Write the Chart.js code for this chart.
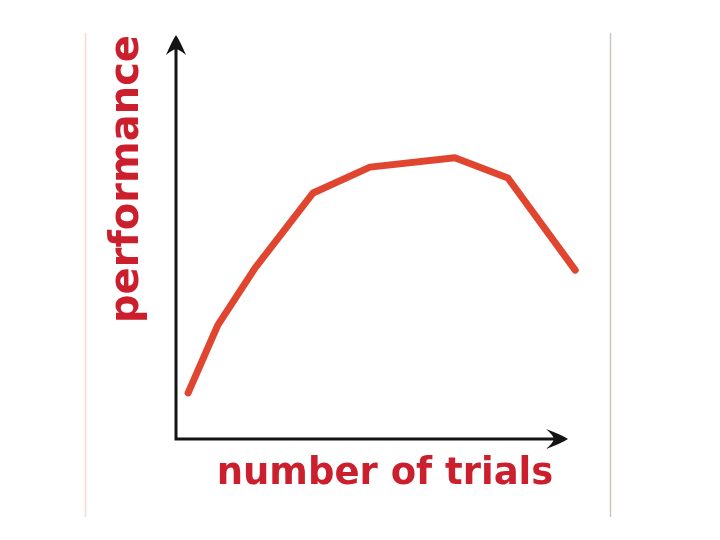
<!DOCTYPE html>
<html>
<head>
<meta charset="utf-8">
<script src="https://cdn.jsdelivr.net/npm/chart.js@4"></script>
<style>
html,body{margin:0;padding:0;background:#fff;}
#wrap{width:720px;height:540px;}
</style>
</head>
<body>
<div id="wrap"><canvas id="c" width="720" height="540"></canvas></div>
<script>
const trials = [0.29, 1.0, 1.89, 3.28, 4.64, 6.67, 7.94, 9.55];
const performance = [1.14, 2.82, 4.23, 6.09, 6.73, 6.96, 6.46, 4.18];
const xLabel = 'number of trials';
const yLabel = 'performance';

const points = trials.map((x, i) => ({x: x, y: performance[i]}));

const axesPlugin = {
  id: 'axesArrows',
  beforeDraw(chart) {
    const ctx = chart.ctx;
    ctx.save();
    // faint picture frame lines
    ctx.lineWidth = 1.5;
    ctx.strokeStyle = '#f0dcd4';
    ctx.beginPath(); ctx.moveTo(85.5, 33); ctx.lineTo(85.5, 517); ctx.stroke();
    ctx.strokeStyle = '#cdc5c1';
    ctx.beginPath(); ctx.moveTo(610.5, 33); ctx.lineTo(610.5, 517); ctx.stroke();
    ctx.restore();
  },
  afterDatasetsDraw(chart) {
    const ctx = chart.ctx;
    const a = chart.chartArea;
    const x0 = a.left, y0 = a.bottom;
    const yTip = a.top, xTip = a.right - 26;
    ctx.save();
    ctx.strokeStyle = '#141414';
    ctx.fillStyle = '#141414';
    ctx.lineWidth = 3;
    ctx.lineCap = 'square';
    ctx.beginPath();
    ctx.moveTo(x0, yTip + 10);
    ctx.lineTo(x0, y0);
    ctx.lineTo(xTip - 10, y0);
    ctx.stroke();
    // y arrowhead
    ctx.beginPath();
    ctx.moveTo(x0, yTip);
    ctx.quadraticCurveTo(x0 + 4, yTip + 6, x0 + 10, yTip + 20);
    ctx.quadraticCurveTo(x0 + 4, yTip + 15, x0, yTip + 14);
    ctx.quadraticCurveTo(x0 - 4, yTip + 15, x0 - 10, yTip + 20);
    ctx.quadraticCurveTo(x0 - 4, yTip + 6, x0, yTip);
    ctx.closePath();
    ctx.fill();
    // x arrowhead
    ctx.beginPath();
    ctx.moveTo(xTip, y0);
    ctx.quadraticCurveTo(xTip - 6, y0 - 4, xTip - 22, y0 - 10);
    ctx.quadraticCurveTo(xTip - 15, y0 - 4, xTip - 14, y0);
    ctx.quadraticCurveTo(xTip - 15, y0 + 4, xTip - 22, y0 + 10);
    ctx.quadraticCurveTo(xTip - 6, y0 + 4, xTip, y0);
    ctx.closePath();
    ctx.fill();
    ctx.restore();
  }
};

new Chart(document.getElementById('c'), {
  type: 'line',
  data: {
    datasets: [{
      data: points,
      borderColor: '#e0452f',
      borderWidth: 7,
      pointRadius: 0,
      tension: 0,
      borderJoinStyle: 'round',
      borderCapStyle: 'round',
      clip: false,
      fill: false
    }]
  },
  options: {
    responsive: false,
    animation: false,
    devicePixelRatio: 1,
    layout: {padding: {left: 100, right: 126, top: 35, bottom: 43.8}},
    plugins: {legend: {display: false}, tooltip: {enabled: false}},
    scales: {
      x: {
        type: 'linear', min: 0, max: 10,
        grid: {display: false, drawTicks: false},
        border: {display: false},
        ticks: {display: false},
        title: {
          display: true, text: xLabel, color: '#cc1f2e',
          font: {family: 'DejaVu Sans', weight: 'bold', size: 37, lineHeight: 1.2},
          padding: {top: 12.8, bottom: 0}
        }
      },
      y: {
        type: 'linear', min: 0, max: 10,
        grid: {display: false, drawTicks: false},
        border: {display: false},
        ticks: {display: false},
        title: {
          display: true, text: yLabel, color: '#cc1f2e', align: 'end',
          font: {family: 'DejaVu Sans', weight: 'bold', size: 40, lineHeight: 1.2},
          padding: {top: 4, bottom: 24}
        }
      }
    }
  },
  plugins: [axesPlugin]
});
</script>
</body>
</html>
